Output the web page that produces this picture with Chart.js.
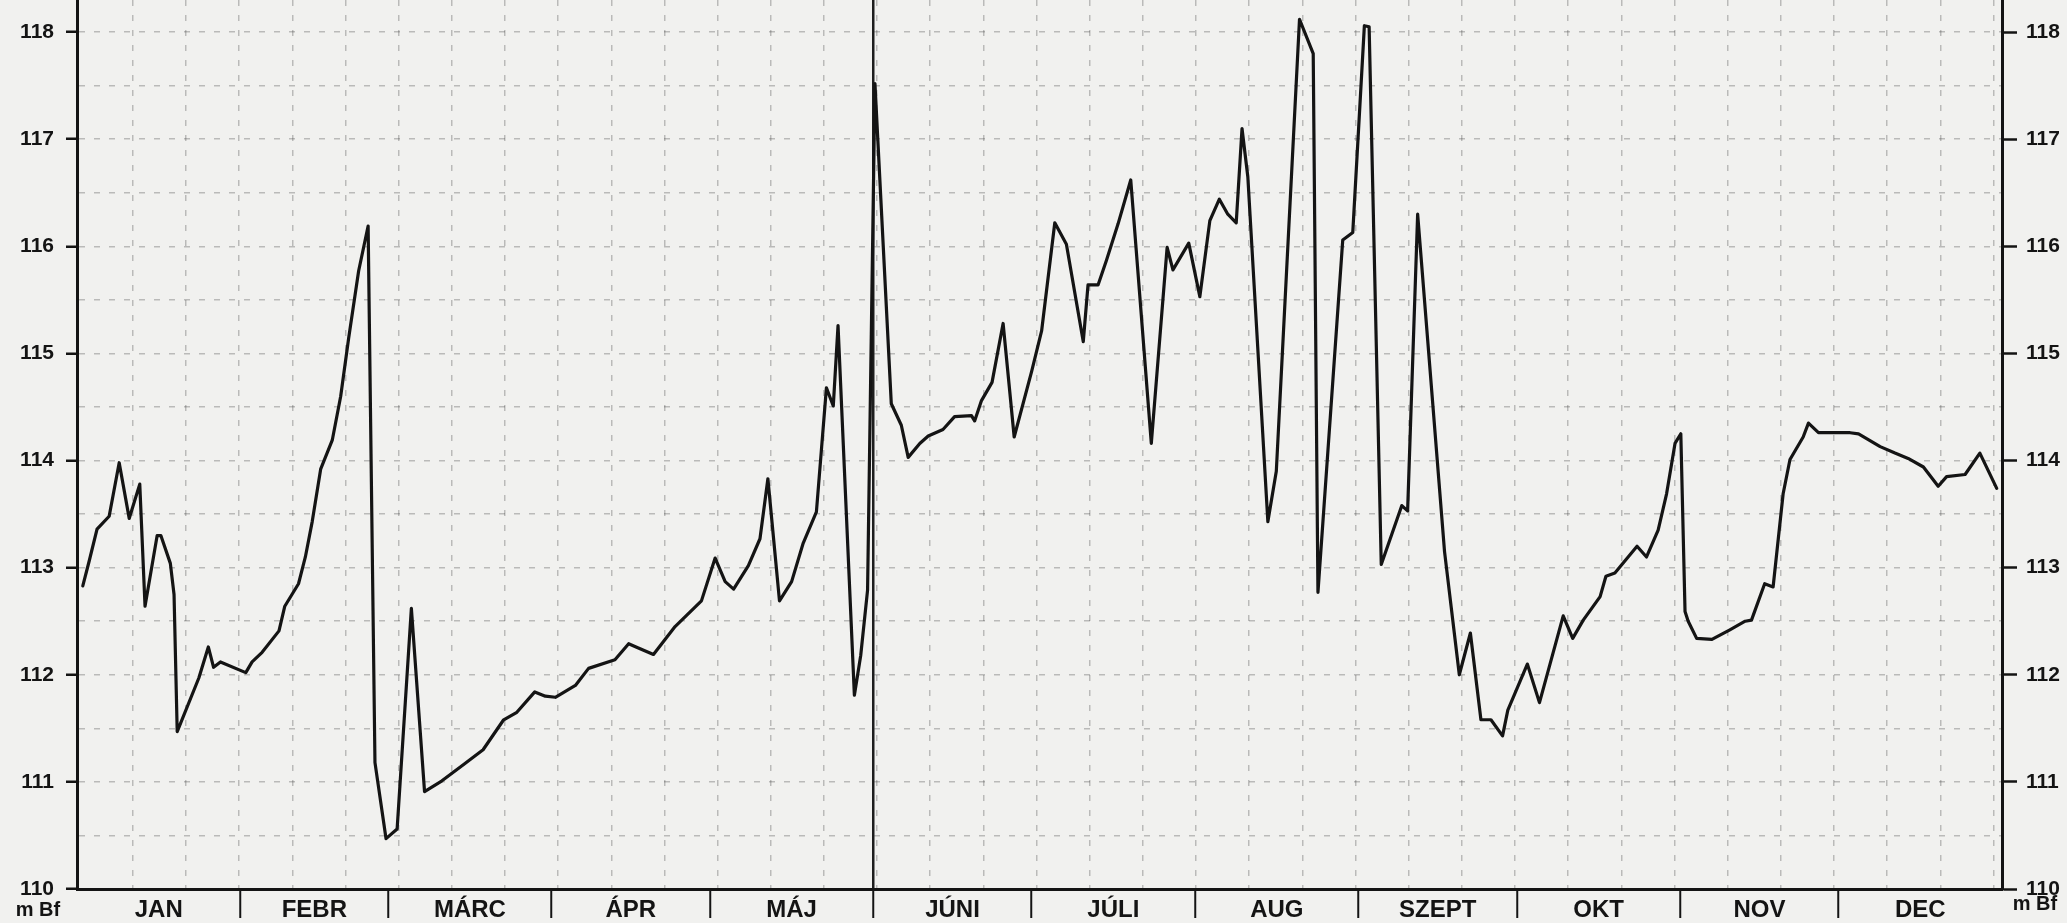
<!DOCTYPE html>
<html>
<head>
<meta charset="utf-8">
<script src="https://cdn.jsdelivr.net/npm/chart.js@4.4.1/dist/chart.umd.min.js"></script>
<style>
html, body { margin: 0; padding: 0; background: #f1f1ef; }
canvas { display: block; }
</style>
</head>
<body>
<canvas id="c" width="2067" height="923"></canvas>
<script>
// ---- data (day of year, water level in m Bf) ----
const days = [
  1.1, 2.3, 3.8, 6.1, 8.0, 9.9, 11.9, 12.9, 15.2, 15.9,
  17.7, 18.4, 19.0, 23.1, 24.9, 25.9, 27.2, 32.0, 33.2, 35.1,
  38.3, 39.4, 42.0, 43.3, 44.6, 46.2, 48.4, 50.0, 51.5, 53.4,
  55.2, 56.5, 58.6, 60.7, 63.4, 65.9, 69.2, 73.5, 77.0, 80.9,
  83.4, 86.8, 88.8, 90.7, 94.5, 97.0, 102.0, 104.6, 106.0, 109.3,
  113.4, 118.4, 121.0, 122.9, 124.5, 127.3, 129.5, 131.0, 133.2, 135.5,
  137.7, 140.2, 142.1, 143.4, 144.3, 147.4, 148.6, 149.9, 151.3, 154.4,
  156.3, 157.6, 159.8, 161.4, 164.2, 166.4, 169.6, 170.2, 171.5, 173.5,
  175.6, 177.7, 181.0, 182.9, 185.4, 187.6, 190.8, 191.7, 193.6, 195.2,
  197.4, 199.8, 203.7, 206.7, 207.8, 210.8, 212.9, 214.8, 216.6, 218.2,
  219.8, 220.9, 222.0, 225.8, 227.4, 231.8, 234.4, 235.3, 240.0, 241.9,
  244.1, 245.0, 247.3, 251.2, 252.3, 254.2, 259.3, 262.1, 264.2, 266.2,
  268.1, 270.3, 271.3, 275.0, 277.3, 281.8, 283.6, 285.6, 288.8, 289.9,
  291.6, 295.8, 297.6, 299.8, 301.4, 303.0, 304.1, 304.9, 305.5, 307.1,
  310.0, 313.4, 316.3, 317.5, 320.0, 321.6, 323.5, 324.8, 327.3, 328.3,
  330.2, 336.2, 337.8, 341.9, 344.7, 347.2, 350.1, 352.9, 354.5, 358.0,
  360.8, 364.0
];
const levels = [
  112.83, 113.06, 113.36, 113.48, 113.98, 113.46, 113.78, 112.64, 113.30, 113.30,
  113.04, 112.75, 111.47, 111.97, 112.26, 112.07, 112.12, 112.02, 112.12, 112.21,
  112.41, 112.64, 112.85, 113.10, 113.43, 113.92, 114.19, 114.60, 115.14, 115.77,
  116.19, 111.18, 110.47, 110.56, 112.62, 110.91, 111.01, 111.17, 111.30, 111.58,
  111.65, 111.84, 111.80, 111.79, 111.90, 112.06, 112.14, 112.29, 112.26, 112.19,
  112.45, 112.69, 113.09, 112.87, 112.80, 113.02, 113.27, 113.83, 112.69, 112.87,
  113.23, 113.52, 114.68, 114.51, 115.26, 111.81, 112.18, 112.79, 117.52, 114.53,
  114.33, 114.03, 114.16, 114.23, 114.29, 114.41, 114.42, 114.37, 114.56, 114.73,
  115.28, 114.22, 114.83, 115.21, 116.22, 116.02, 115.11, 115.64, 115.64, 115.87,
  116.21, 116.62, 114.16, 115.99, 115.78, 116.03, 115.53, 116.24, 116.44, 116.30,
  116.22, 117.10, 116.65, 113.43, 113.90, 118.12, 117.80, 112.77, 116.06, 116.13,
  118.06, 118.05, 113.03, 113.58, 113.53, 116.30, 113.15, 112.00, 112.39, 111.58,
  111.58, 111.43, 111.67, 112.10, 111.74, 112.55, 112.34, 112.51, 112.73, 112.92,
  112.95, 113.20, 113.10, 113.35, 113.69, 114.16, 114.25, 112.59, 112.50, 112.34,
  112.33, 112.42, 112.50, 112.51, 112.85, 112.82, 113.69, 114.01, 114.22, 114.35,
  114.26, 114.26, 114.25, 114.13, 114.07, 114.02, 113.94, 113.76, 113.85, 113.87,
  114.07, 113.74
];
const monthNames = ['JAN', 'FEBR', 'MÁRC', 'ÁPR', 'MÁJ', 'JÚNI', 'JÚLI', 'AUG', 'SZEPT', 'OKT', 'NOV', 'DEC'];
const monthStarts = [0, 31, 59, 90, 120, 151, 181, 212, 243, 273, 304, 334, 365];
const yTickValues = [110, 111, 112, 113, 114, 115, 116, 117, 118];
const unitLabel = 'm Bf';

// ---- styling / layout helpers ----
const FONT = "'Liberation Sans', Arial, Helvetica, sans-serif";
const INK = '#141414';
const GRID = 'rgba(60,60,60,0.30)';

const paperGridDays = [];
for (let k = -14; k <= 21; k++) {
  const d = 151.7 + 10.08 * k;
  if (d > 1 && d < 364) paperGridDays.push(d);
}
const halfSteps = [];
for (let v = 110; v <= 118.001; v += 0.5) halfSteps.push(Math.round(v * 2) / 2);

const monthTicks = [];
for (let i = 0; i < 12; i++) {
  monthTicks.push(monthStarts[i]);
  monthTicks.push((monthStarts[i] + monthStarts[i + 1]) / 2);
}
monthTicks.push(365);

const points = days.map((d, i) => ({ x: d, y: levels[i] }));

const paperPlugin = {
  id: 'paper',
  beforeDraw(chart) {
    const ctx = chart.ctx;
    ctx.save();
    ctx.fillStyle = '#f1f1ef';
    ctx.fillRect(0, 0, chart.width, chart.height);
    ctx.restore();
  },
  afterDraw(chart) {
    const ctx = chart.ctx;
    ctx.save();
    ctx.fillStyle = INK;
    ctx.font = "bold 20px " + FONT;
    ctx.textAlign = 'center';
    ctx.textBaseline = 'middle';
    ctx.fillText(unitLabel, 38, 910);
    ctx.fillText(unitLabel, 2035, 904);
    ctx.restore();
  }
};

new Chart(document.getElementById('c'), {
  type: 'line',
  data: {
    datasets: [{
      data: points,
      borderColor: INK,
      borderWidth: 3.2,
      pointRadius: 0,
      tension: 0,
      borderJoinStyle: 'round',
      borderCapStyle: 'round',
      xAxisID: 'x',
      yAxisID: 'y'
    }]
  },
  options: {
    responsive: false,
    devicePixelRatio: 1,
    animation: false,
    layout: { padding: 0 },
    plugins: { legend: { display: false }, tooltip: { enabled: false }, title: { display: false } },
    scales: {
      x: {
        type: 'linear', position: 'bottom', min: 0, max: 365,
        afterBuildTicks: s => { s.ticks = paperGridDays.map(v => ({ value: v })); },
        afterFit: s => { s.height = 0; s.paddingLeft = 0; s.paddingRight = 0; },
        ticks: { display: false },
        grid: { color: GRID, lineWidth: 1.5, drawTicks: false },
        border: { display: false, dash: [6, 9] }
      },
      xm: {
        type: 'linear', position: 'bottom', min: 0, max: 365,
        afterBuildTicks: s => { s.ticks = monthTicks.map(v => ({ value: v })); },
        afterFit: s => { s.height = 34; s.paddingLeft = 0; s.paddingRight = 0; },
        ticks: {
          autoSkip: false, maxRotation: 0, minRotation: 0, padding: -22,
          color: INK, font: { family: FONT, size: 24, weight: 'bold' },
          callback: (v, i) => (i % 2 === 1 ? monthNames[(i - 1) / 2] : '')
        },
        grid: {
          drawOnChartArea: true,
          color: c => (c.tick && c.tick.value === 151 ? '#1e1e1e' : 'rgba(0,0,0,0)'),
          lineWidth: 2.5,
          tickColor: c => (c.index % 2 === 0 && c.index !== 0 && c.index !== 24 ? INK : 'rgba(0,0,0,0)'),
          tickLength: 29,
          tickWidth: 2
        },
        border: { display: true, color: INK, width: 3 }
      },
      y: {
        type: 'linear', position: 'left', min: 110, max: 118.3,
        afterBuildTicks: s => { s.ticks = halfSteps.map(v => ({ value: v })); },
        afterFit: s => { s.width = 77; s.paddingTop = 0; s.paddingBottom = 0; },
        ticks: {
          autoSkip: false, padding: 12, color: INK,
          font: { family: FONT, size: 21, weight: 'bold' },
          callback: v => (Number.isInteger(v) ? String(v) : '')
        },
        grid: {
          color: c => (c.tick && c.tick.value === 110 ? 'rgba(0,0,0,0)' : GRID),
          lineWidth: 1.5,
          tickLength: 11,
          tickWidth: 2.5,
          tickColor: c => (c.tick && Number.isInteger(c.tick.value) ? INK : 'rgba(0,0,0,0)')
        },
        border: { display: true, color: INK, width: 3, dash: [6, 9] }
      },
      y2: {
        type: 'linear', position: 'right', min: 110, max: 118.3,
        afterBuildTicks: s => { s.ticks = yTickValues.map(v => ({ value: v })); },
        afterFit: s => { s.width = 65; s.paddingTop = 0; s.paddingBottom = 0; },
        ticks: {
          autoSkip: false, padding: 9, color: INK,
          font: { family: FONT, size: 21, weight: 'bold' },
          callback: v => String(v)
        },
        grid: { drawOnChartArea: false, tickLength: 15, tickWidth: 2.5, tickColor: INK },
        border: { display: true, color: INK, width: 3 }
      }
    }
  },
  plugins: [paperPlugin]
});
</script>
</body>
</html>
